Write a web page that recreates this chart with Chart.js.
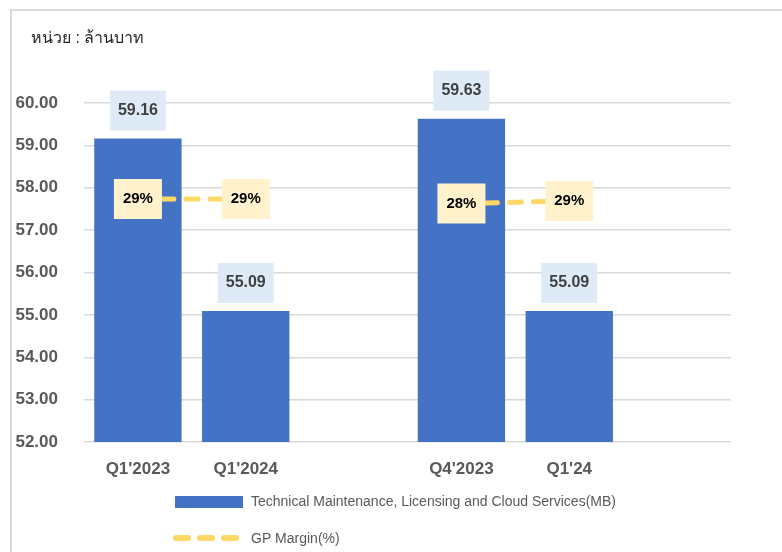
<!DOCTYPE html>
<html lang="th">
<head>
  <meta charset="UTF-8">
  <title>Technical Maintenance, Licensing and Cloud Services</title>
  <script src="https://cdn.jsdelivr.net/npm/chart.js"></script>
  <style>
    body { margin: 0; background: #fff; overflow: hidden; }
    #frame { position: absolute; left: 10px; top: 9px; width: 800px; height: 600px;
             border-left: 2px solid #d9d9d9; border-top: 2px solid #d9d9d9; }
    #box { position: absolute; left: 0; top: 0; width: 782px; height: 552px; }
  </style>
</head>
<body>
  <div id="frame"></div>
  <div id="box"><canvas id="revChart"></canvas></div>

  <script>
    // data (blank slots are the gaps between the two groups)
    const quarters = ["Q1'2023", "Q1'2024", "", "Q4'2023", "Q1'24", ""];
    const revenue = [59.16, 55.09, null, 59.63, 55.09, null];
    const gpMargin = [29.2, 29.2, null, 28.3, 28.8, null];
    const unitText = 'หน่วย : ล้านบาท';
    const barName = 'Technical Maintenance, Licensing and Cloud Services(MB)';
    const lineName = 'GP Margin(%)';

    const FONT = '"Liberation Sans", Arial, sans-serif';
    const BLUE = '#4472C4';
    const GOLD = '#FFD966';

    const boxLabels = {
      id: 'boxLabels',
      afterDatasetsDraw(chart) {
        const ctx = chart.ctx;
        ctx.save();
        ctx.textAlign = 'center';
        ctx.textBaseline = 'middle';

        // value boxes above the bars
        ctx.font = 'bold 16px ' + FONT;
        chart.getDatasetMeta(1).data.forEach((bar, i) => {
          if (revenue[i] == null) return;
          ctx.fillStyle = '#DEEBF7';
          ctx.fillRect(bar.x - 28, bar.y - 48, 56, 40);
          ctx.fillStyle = '#404040';
          ctx.fillText(revenue[i].toFixed(2), bar.x, bar.y - 28);
        });

        // margin boxes on the line points
        ctx.font = 'bold 15px ' + FONT;
        chart.getDatasetMeta(0).data.forEach((pt, i) => {
          if (gpMargin[i] == null) return;
          ctx.fillStyle = '#FFF2CC';
          ctx.fillRect(pt.x - 24, pt.y - 20, 48, 40);
          ctx.fillStyle = '#000';
          ctx.fillText(Math.round(gpMargin[i]) + '%', pt.x, pt.y);
        });
        ctx.restore();
      },
      afterDraw(chart) {
        const ctx = chart.ctx;
        ctx.save();
        ctx.textBaseline = 'middle';
        ctx.textAlign = 'left';

        ctx.fillStyle = '#262626';
        ctx.font = '16px ' + FONT;
        ctx.fillText(unitText, 31, 39);

        // legend
        ctx.fillStyle = BLUE;
        ctx.fillRect(175, 496, 68, 12);
        ctx.fillStyle = '#595959';
        ctx.font = '14px ' + FONT;
        ctx.fillText(barName, 251, 502);

        ctx.strokeStyle = GOLD;
        ctx.lineWidth = 6;
        ctx.lineCap = 'round';
        ctx.setLineDash([12, 12]);
        ctx.beginPath();
        ctx.moveTo(176, 538);
        ctx.lineTo(238, 538);
        ctx.stroke();
        ctx.setLineDash([]);
        ctx.fillText(lineName, 251, 539);
        ctx.restore();
      }
    };

    new Chart(document.getElementById('revChart'), {
      data: {
        labels: quarters,
        datasets: [
          {
            type: 'line',
            label: lineName,
            data: gpMargin,
            yAxisID: 'y2',
            borderColor: GOLD,
            borderWidth: 5,
            borderDash: [12, 12],
            borderCapStyle: 'round',
            pointRadius: 0,
            spanGaps: false,
            fill: false
          },
          {
            type: 'bar',
            label: barName,
            data: revenue,
            backgroundColor: BLUE,
            barPercentage: 0.81,
            categoryPercentage: 1
          }
        ]
      },
      options: {
        responsive: true,
        maintainAspectRatio: false,
        animation: false,
        layout: { padding: { left: 15, top: 103, right: 51, bottom: 70 } },
        plugins: {
          legend: { display: false },
          tooltip: { enabled: false }
        },
        scales: {
          x: {
            grid: { display: false, drawTicks: false },
            border: { display: false },
            ticks: { color: '#595959', font: { family: FONT, size: 17, weight: 'bold' }, padding: 17 },
            afterFit: s => { s.height = 40; }
          },
          y: {
            min: 52,
            max: 60,
            grid: { color: '#d9d9d9', lineWidth: 1.5, drawTicks: false },
            border: { display: false },
            ticks: {
              stepSize: 1,
              color: '#595959',
              font: { family: FONT, size: 17, weight: 'bold' },
              padding: 26,
              callback: v => v.toFixed(2)
            },
            afterFit: s => { s.width = 69; }
          },
          y2: {
            display: false,
            min: -19.4,
            max: 48.4
          }
        }
      },
      plugins: [boxLabels]
    });
  </script>
</body>
</html>
